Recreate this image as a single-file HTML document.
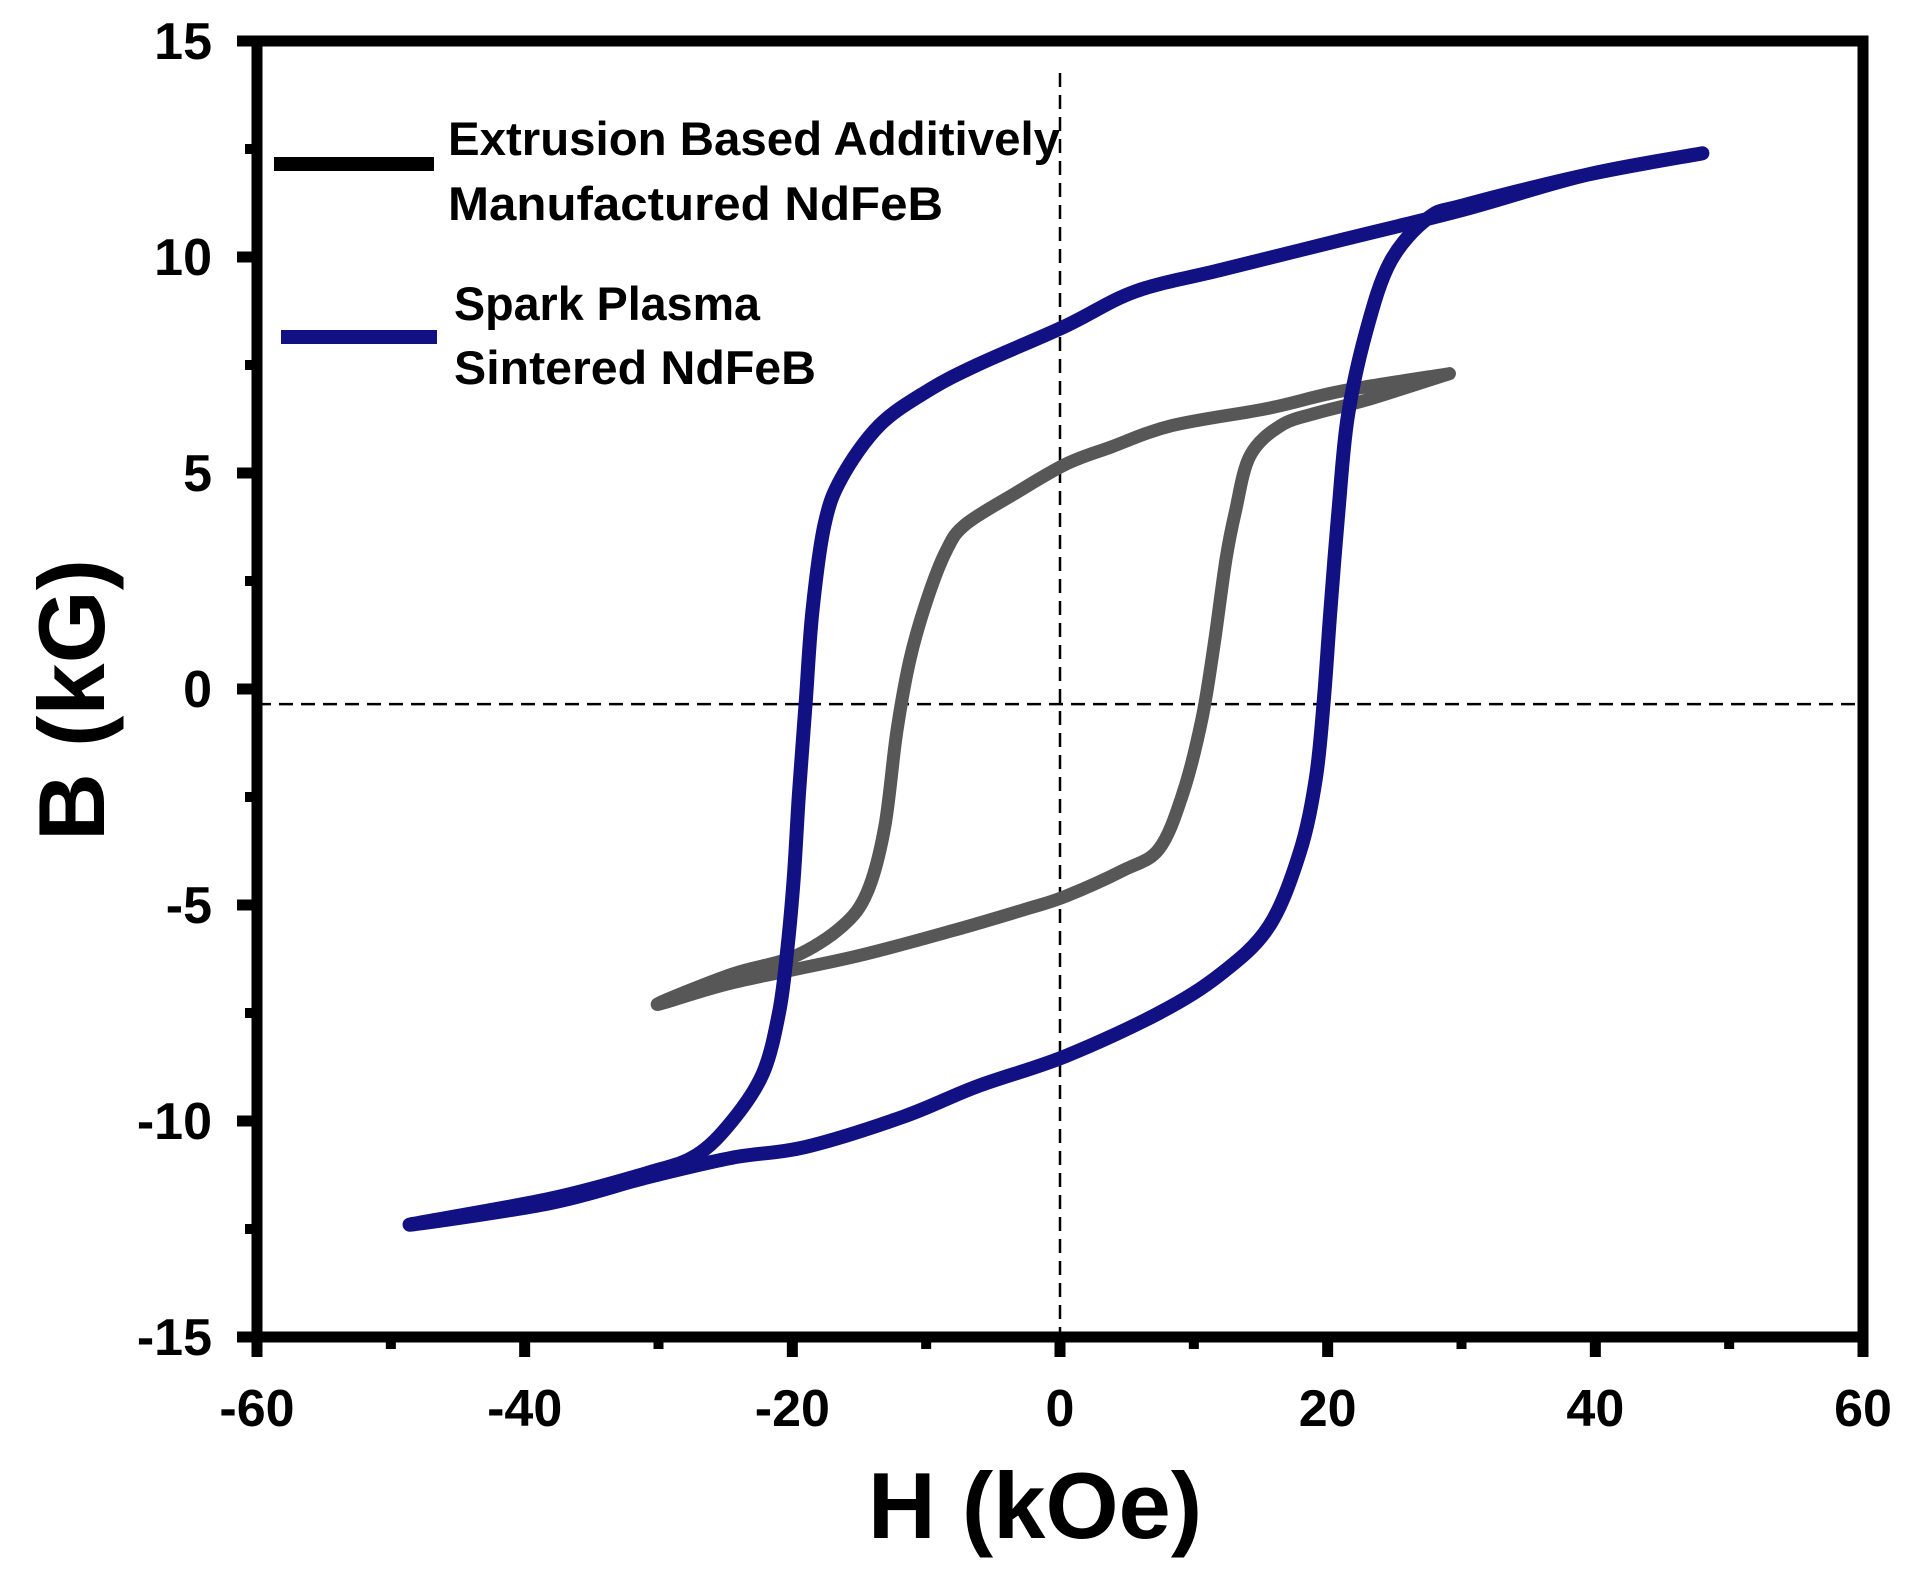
<!DOCTYPE html>
<html><head><meta charset="utf-8"><style>
html,body{margin:0;padding:0;background:#fff;}
svg{display:block;}
text{font-family:"Liberation Sans",Arial,sans-serif;font-weight:bold;fill:#000;}
.leg{font-family:"Liberation Sans Narrow","Liberation Sans",sans-serif;font-size:47px;}
</style></head><body>
<svg id="chart" width="1910" height="1574" viewBox="0 0 1910 1574" xmlns="http://www.w3.org/2000/svg">
<g id="plot"></g>
</svg>
<script>
const xTicks = [-60,-40,-20,0,20,40,60];
const yTicks = [-15,-10,-5,0,5,10,15];
const blueH = [48,39.3,30.2,21.1,12,5.6,0.4,-6.2,-9.9,-13.5,-16.3,-17.6,-18.5,-19,-19.5,-19.9,-20.4,-21,-22.2,-24.5,-27.2,-30.8,-38.1,-48.6,-38.1,-30.8,-24.5,-19,-11.7,-6.2,0.4,7.4,12,15.6,17.9,19.1,19.7,20.2,20.8,21.5,22.9,24.7,27.5,30.2,39.3,48];
const blueB = [12.4,11.9,11.1,10.4,9.7,9.2,8.4,7.5,6.9,6.1,4.9,3.8,1.8,-0.3,-2.4,-4.4,-6.1,-7.5,-8.9,-10,-10.8,-11.2,-11.8,-12.4,-11.9,-11.3,-10.85,-10.6,-9.9,-9.2,-8.5,-7.5,-6.6,-5.5,-3.8,-2.1,-0.3,1.8,4.1,6.3,8.3,9.9,10.9,11.2,11.9,12.4];
const grayH = [29.1,21.1,15.6,8.4,3.8,0.4,-3.5,-7.1,-8.5,-9.9,-11.2,-12.2,-13.1,-14.4,-16.3,-19.9,-24.5,-30.1,-24.5,-15.4,-8.1,-2.6,0.4,4.7,7.4,9.2,10.6,11.5,12.4,13.1,14.2,16.5,19.3,23,29.1];
const grayB = [7.3,6.9,6.5,6.1,5.6,5.2,4.5,3.8,3.2,2.1,0.7,-1.0,-3.2,-4.7,-5.5,-6.2,-6.6,-7.3,-6.8,-6.2,-5.6,-5.1,-4.8,-4.2,-3.7,-2.4,-0.7,1.0,3.0,4.1,5.4,6.1,6.4,6.7,7.3];

const X0=257,X1=1863,Y0=41,Y1=1337;
const sx=v=>X0+(v+60)/120*(X1-X0);
const sy=v=>Y1-(v+15)/30*(Y1-Y0);
const NS='http://www.w3.org/2000/svg';
const g=document.getElementById('plot');
function mk(t,a,p){const e=document.createElementNS(NS,t);for(const k in a)e.setAttribute(k,a[k]);(p||g).appendChild(e);return e;}

let e=mk('line',{x1:sx(0),y1:73,x2:sx(0),y2:Y1,stroke:'#000','stroke-width':2.5,'stroke-dasharray':'14 8'});


e=mk('line',{x1:X0,y1:sy(-0.35),x2:X1,y2:sy(-0.35),stroke:'#000','stroke-width':2.5,'stroke-dasharray':'14 8'});



function smooth(H,B){
  const p=H.map((h,i)=>[sx(h),sy(B[i])]);
  let d='M'+p[0][0]+','+p[0][1];
  for(let i=0;i<p.length-1;i++){
    const a=p[Math.max(i-1,0)],b=p[i],c=p[i+1],n=p[Math.min(i+2,p.length-1)];
    const c1=[b[0]+(c[0]-a[0])/6,b[1]+(c[1]-a[1])/6],c2=[c[0]-(n[0]-b[0])/6,c[1]-(n[1]-b[1])/6];
    d+=' C'+c1+' '+c2+' '+c;
  }
  return d;
}
e=mk('path',{d:smooth(grayH,grayB),fill:'none',stroke:'#575757','stroke-width':13,'stroke-linejoin':'round','stroke-linecap':'round'});


e=mk('path',{d:smooth(blueH,blueB),fill:'none',stroke:'#111183','stroke-width':14,'stroke-linejoin':'round','stroke-linecap':'round'});



e=mk('rect',{x:X0,y:Y0,width:X1-X0,height:Y1-Y0,fill:'none',stroke:'#000','stroke-width':11});



xTicks.forEach((v,i)=>{
  const t=mk('line',{x1:sx(v),y1:Y1,x2:sx(v),y2:Y1+20,stroke:'#000','stroke-width':11});
  
  
  if(i<xTicks.length-1){const m=mk('line',{x1:sx(v+10),y1:Y1,x2:sx(v+10),y2:Y1+12,stroke:'#000','stroke-width':10});
  
  }
  const l=mk('text',{x:sx(v),y:1426,'text-anchor':'middle','font-size':52});
  l.textContent=v;
  
  
});
yTicks.forEach((v,i)=>{
  const t=mk('line',{x1:X0-20,y1:sy(v),x2:X0,y2:sy(v),stroke:'#000','stroke-width':11});
  
  
  if(i<yTicks.length-1){const m=mk('line',{x1:X0-12,y1:sy(v+2.5),x2:X0,y2:sy(v+2.5),stroke:'#000','stroke-width':10});
  
  }
  const l=mk('text',{x:X0-45,y:sy(v)+18,'text-anchor':'end','font-size':52});
  l.textContent=v;
  
  
});

e=mk('text',{x:1035,y:1538,'text-anchor':'middle','font-size':94});
e.textContent='H (kOe)';


e=mk('text',{x:0,y:0,'text-anchor':'middle','font-size':94,transform:'translate(104,700) rotate(-90)'});
e.textContent='B (kG)';



e=mk('line',{x1:274,y1:164,x2:434,y2:164,stroke:'#000','stroke-width':14});


e=mk('line',{x1:281,y1:337,x2:437,y2:337,stroke:'#111183','stroke-width':14});


[['Extrusion Based Additively',448,155,612],['Manufactured NdFeB',448,220,495],['Spark Plasma',454,320,306],['Sintered NdFeB',454,384,362]].forEach(a=>{
  const t=mk('text',{x:a[1],y:a[2],'class':'leg',textLength:a[3],lengthAdjust:'spacingAndGlyphs'});
  t.textContent=a[0];
  
  
});
</script>
</body></html>
